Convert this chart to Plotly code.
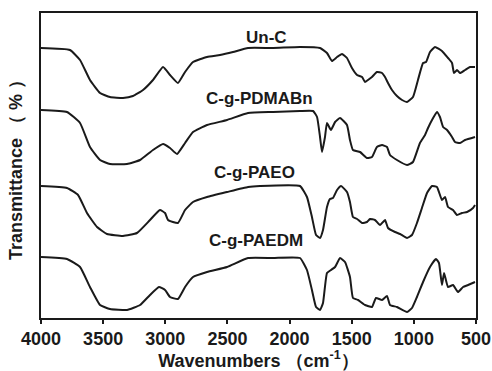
import plotly.graph_objects as go

# Wavenumbers (cm-1) and transmittance (arbitrary, stacked)
unc_x = [4000, 3767, 3686, 3606, 3525, 3445, 3340, 3260, 3179, 3099, 3018, 2962, 2898, 2841, 2777,
         2664, 2560, 2455, 2334, 2133,
         1916, 1755, 1699, 1659, 1618, 1578, 1538, 1498, 1457, 1417, 1393, 1369, 1337, 1297, 1256,
         1232, 1208, 1176, 1136, 1095, 1055, 1007, 967, 926, 902, 870, 830, 774, 725, 693, 677,
         653, 629, 588, 548, 508]
unc_y = [270, 268, 258, 238, 225, 221, 220, 222, 228, 238, 251, 243, 235, 246, 256,
         261, 263, 266, 270, 270,
         271, 270, 265, 257, 261, 264, 260, 250, 243, 241, 236, 238, 241, 246, 245,
         241, 235, 228, 222, 218, 216, 221, 238, 255, 256, 266, 271, 267, 260, 255, 245,
         248, 245, 248, 251, 251]

pdm_x = [4000, 3791, 3686, 3606, 3525, 3445, 3308, 3203, 3099, 3018, 2962, 2906, 2841, 2777, 2664,
         2503, 2334, 2133,
         1916, 1811, 1779, 1755, 1739, 1715, 1699, 1667, 1634, 1594, 1538, 1514, 1490, 1433, 1377,
         1337, 1297, 1256, 1216, 1192, 1136, 1055, 1007, 951, 910, 886, 854, 814, 790, 765, 733,
         693, 669, 629, 588, 508]
pdm_y = [208, 206, 195, 171, 158, 154, 154, 158, 168, 174, 170, 164, 175, 186, 193,
         198, 205, 206,
         207, 207, 201, 181, 166, 181, 195, 188, 196, 200, 193, 178, 168, 166, 160,
         161, 171, 173, 171, 163, 158, 153, 156, 175, 183, 190, 198, 206, 201, 191, 188,
         181, 176, 175, 178, 181]

paeo_x = [4000, 3791, 3702, 3630, 3549, 3469, 3340, 3228, 3123, 3043, 3002, 2978, 2898, 2841, 2777,
          2664, 2503, 2334, 2238,
          1916, 1860, 1820, 1787, 1755, 1731, 1699, 1675, 1651, 1618, 1586, 1538, 1514, 1490, 1457,
          1417, 1377, 1353, 1313, 1272, 1232, 1208, 1152, 1111, 1055, 1015, 975, 935, 894, 854,
          814, 774, 749, 725, 685, 653, 613, 572, 524, 508]
paeo_y = [132, 130, 123, 105, 91, 84, 82, 85, 98, 108, 105, 98, 95, 108, 116,
          121, 126, 131, 132,
          132, 121, 101, 83, 80, 88, 111, 119, 120, 128, 132, 126, 116, 101, 99,
          95, 96, 99, 98, 93, 98, 90, 86, 84, 80, 83, 95, 110, 125, 132,
          131, 118, 121, 111, 108, 103, 105, 106, 110, 113]

paedm_x = [4000, 3791, 3686, 3606, 3525, 3445, 3308, 3203, 3123, 3051, 3002, 2962, 2898, 2841, 2777,
           2664, 2503, 2334, 2133,
           1916, 1860, 1820, 1787, 1755, 1731, 1699, 1667, 1634, 1594, 1554, 1514, 1490, 1449, 1393,
           1337, 1305, 1256, 1216, 1192, 1136, 1055, 1015, 975, 926, 870, 822, 798, 774, 757, 725,
           685, 645, 604, 564, 508]
paedm_y = [61, 59, 51, 31, 13, 9, 8, 13, 23, 31, 28, 21, 19, 31, 41,
           46, 51, 60, 60,
           60, 48, 28, 11, 8, 15, 45, 48, 51, 60, 56, 41, 20, 18, 13,
           11, 20, 18, 22, 13, 11, 6, 10, 21, 36, 51, 59, 55, 33, 45, 31,
           33, 26, 31, 33, 36]

series_names = ["Un-C", "C-g-PDMABn", "C-g-PAEO", "C-g-PAEDM"]
label_x = [2182, 2238, 2286, 2270]
label_y = [281, 220, 146, 78]
x_ticks = [4000, 3500, 3000, 2500, 2000, 1500, 1000, 500]

FONT = "Liberation Sans, Arial, sans-serif"
fig = go.Figure()
for xs, ys, nm in [(unc_x, unc_y, series_names[0]), (pdm_x, pdm_y, series_names[1]),
                   (paeo_x, paeo_y, series_names[2]), (paedm_x, paedm_y, series_names[3])]:
    fig.add_trace(go.Scatter(x=xs, y=ys, mode="lines", name=nm,
                             line=dict(color="#1a1a1a", width=2, shape="spline", smoothing=0.4)))

for nm, lx, ly in zip(series_names, label_x, label_y):
    fig.add_annotation(x=lx, y=ly, text=nm, showarrow=False,
                       font=dict(family=FONT, size=17, color="#1a1a1a", weight="bold"))

fig.update_layout(
    width=492, height=371,
    margin=dict(l=41, r=16, t=13, b=53, autoexpand=False),
    paper_bgcolor="white", plot_bgcolor="white",
    showlegend=False,
    font=dict(family=FONT, color="#1a1a1a"),
    xaxis=dict(range=[4000, 500], tickvals=x_ticks, ticks="outside", ticklen=4, tickwidth=1.5,
               tickcolor="#1a1a1a", showline=True, linecolor="#1a1a1a", linewidth=1.5, mirror=True,
               showgrid=False, zeroline=False, automargin=False,
               tickfont=dict(family=FONT, size=18, weight="bold"),
               title=dict(text="Wavenumbers （cm<sup>-1</sup>）", standoff=0,
                          font=dict(family=FONT, size=18, weight="bold"))),
    yaxis=dict(range=[0, 305], showticklabels=False, ticks="", showline=True, linecolor="#1a1a1a",
               linewidth=1.5, mirror=True, showgrid=False, zeroline=False, automargin=False,
               title=dict(text="Transmittance （ % ）", standoff=12,
                          font=dict(family=FONT, size=18, weight="bold"))),
)
fig.write_html("out.html")
